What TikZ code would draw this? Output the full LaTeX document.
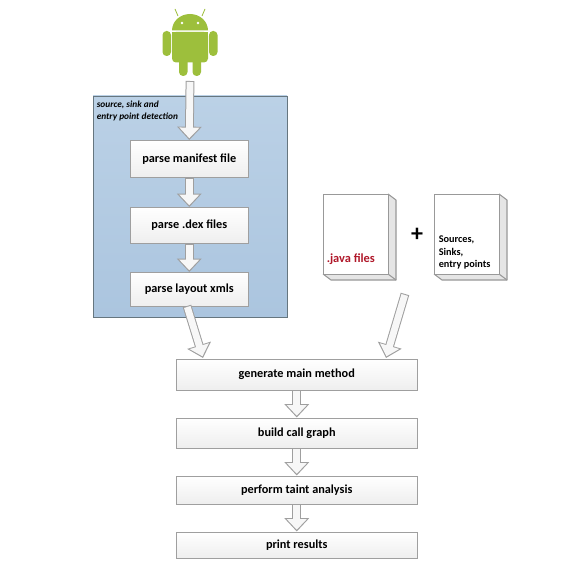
\documentclass[tikz,border=0pt]{standalone}
\usepackage{fontspec}
\setmainfont{Carlito}
\usepackage{xcolor}
\usetikzlibrary{arrows.meta, shadows}

\definecolor{droidgreen}{HTML}{9DBF3C}
\definecolor{paneltop}{HTML}{BBD1E6}
\definecolor{panelbottom}{HTML}{ABC5DF}
\definecolor{panelline}{HTML}{66767F}
\definecolor{javared}{HTML}{B0182A}

\tikzset{
  stepbox/.style={draw=gray!75, top color=white, bottom color=gray!13, anchor=north west,
    font=\bfseries\fontsize{9.2}{11}\selectfont, inner sep=0pt,
    drop shadow={shadow xshift=0.7pt, shadow yshift=-0.7pt, opacity=0.25}},
  blockouter/.style={line width=6.6pt, draw=gray!75, -{Triangle[length=10pt, width=18pt]}},
  blockinner/.style={line width=5.1pt, draw=gray!6, shorten <=0.75pt, shorten >=1.3pt,
    -{Triangle[length=8pt, width=14.6pt]}},
  docfront/.style={draw=gray!80, fill=white, line width=0.8pt, anchor=north west, minimum width=48.75pt, minimum height=60pt, inner sep=0pt},
  docside/.style={draw=gray!80, fill=gray!20, line width=0.8pt, line join=round}
}
\newcommand{\blockarrow}[2]{
  \draw[blockouter] (#1) -- (#2);
  \draw[blockinner] (#1) -- (#2);
}
\newcommand{\docpage}[3]{
  \fill[gray!20] (#2+65,#3) -- (#2+73,#3+6) -- (#2+73,#3+86) -- (#2+8,#3+86) -- (#2,#3+80) -- (#2+65,#3+80) -- cycle;
  \draw[docside] (#2+65,#3) -- (#2+73,#3+6) -- (#2+73,#3+86) -- (#2+8,#3+86) -- (#2,#3+80);
  \draw[docside] (#2+65,#3+80) -- (#2+73,#3+86);
  \node[docfront] (#1) at (#2,#3) {};
}

\begin{document}
\begin{tikzpicture}[x=0.75pt, y=-0.75pt]
    \useasboundingbox (0,0) rectangle (588,577);
    \fill[white] (0,0) rectangle (588,577);

    % Android
    \fill[droidgreen] (172,30.5) arc (180:360:18 and 16.5) -- cycle;
    \draw[droidgreen, line width=0.6pt] (178,16) -- (175,9);
    \draw[droidgreen, line width=0.6pt] (202,16) -- (205,9);
    \fill[white] (182,23) circle (1.4);
    \fill[white] (198,23) circle (1.4);
    \fill[droidgreen, rounded corners=3pt] (172,32) -- (208,32) -- (208,62.5) -- (172,62.5) -- cycle;
    \fill[droidgreen] (172,32) rectangle (208,45);
    \fill[droidgreen, rounded corners=3pt] (162.5,31) rectangle (171,56);
    \fill[droidgreen, rounded corners=3pt] (209,31) rectangle (217.5,56);
    \fill[droidgreen, rounded corners=3pt] (179,58) rectangle (187.5,76);
    \fill[droidgreen, rounded corners=3pt] (192.5,58) rectangle (201,76);
    \node[inner sep=0pt, minimum width=42pt, minimum height=50pt] (android) at (190,44) {};
    \coordinate (androidfoot) at (190,81);

    % Detection panel
    \fill[top color=paneltop, bottom color=panelbottom] (93,96) rectangle (287,317);
    \draw[panelline, line width=0.7pt] (93,96) rectangle (287,317);
    \node[anchor=west, inner sep=0pt, font=\bfseries\itshape\fontsize{7}{8}\selectfont] (detectone) at (96.5,105) {source, sink and};
    \node[anchor=west, inner sep=0pt, font=\bfseries\itshape\fontsize{7}{8}\selectfont] (detecttwo) at (96.5,117) {entry point detection};

    % Parsing steps
    \node[stepbox, minimum width=88.5pt, minimum height=27.75pt] (manifest) at (130,140) {parse manifest file};
    \node[stepbox, minimum width=88.5pt, minimum height=27pt] (dex) at (130,207) {parse .dex files};
    \node[stepbox, minimum width=88.5pt, minimum height=25.5pt] (layout) at (130,272) {parse layout xmls};

    % Documents
    \docpage{javadoc}{323}{194}
    \docpage{sourcedoc}{434}{194}
    \node[anchor=west, inner sep=0pt, text=javared, font=\bfseries\fontsize{9.3}{10}\selectfont] (javalabel) at (326.5,259) {.java files};
    \node[anchor=west, inner sep=0pt, align=left, font=\bfseries\fontsize{7.7}{9.3}\selectfont] (sourcelabel) at (438.5,252.5) {Sources,\\Sinks,\\entry points};
    \node[inner sep=0pt, font=\bfseries\fontsize{18}{18}\selectfont] (plus) at (417,234.5) {+};

    % Analysis steps
    \node[stepbox, minimum width=180.75pt, minimum height=23.25pt] (generate) at (176,358.5) {generate main method};
    \node[stepbox, minimum width=180.75pt, minimum height=22.5pt] (callgraph) at (176,417.5) {build call graph};
    \node[stepbox, minimum width=180.75pt, minimum height=21pt] (taint) at (176,475.5) {perform taint analysis};
    \node[stepbox, minimum width=180.75pt, minimum height=19.5pt] (results) at (176,531.5) {print results};

    % Arrows
    \coordinate (layoutfoot) at (187,306);
    \coordinate (genleft) at (203,358);
    \coordinate (javafoot) at (405,294);
    \coordinate (genright) at (386,358);
    \blockarrow{androidfoot}{manifest.north}
    \blockarrow{manifest.south}{dex.north}
    \blockarrow{dex.south}{layout.north}
    \blockarrow{layoutfoot}{genleft}
    \blockarrow{javafoot}{genright}
    \blockarrow{generate.south}{callgraph.north}
    \blockarrow{callgraph.south}{taint.north}
    \blockarrow{taint.south}{results.north}
\end{tikzpicture}
\end{document}
